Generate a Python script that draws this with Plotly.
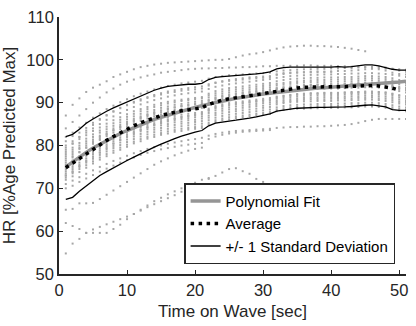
import plotly.graph_objects as go

x_full = list(range(1, 52))

avg = [74.8, 75.9, 77.0, 78.0, 79.1, 80.2, 81.2, 82.1, 83.0, 83.8, 84.6, 85.3, 85.9, 86.5, 87.0, 87.4, 87.8, 88.1, 88.3, 88.5,
       88.8, 89.6, 90.2, 90.6, 90.9, 91.1, 91.3, 91.5, 91.8, 92.1, 92.4, 92.7, 93.0, 93.2, 93.4, 93.6, 93.7, 93.7, 93.7, 93.7,
       93.6, 93.7, 93.8, 93.9, 94.0, 94.0, 93.9, 93.7, 93.4, 92.9, 92.5]
upper = [82.1, 82.6, 83.8, 85.2, 86.2, 87.2, 88.0, 88.8, 89.5, 90.2, 90.9, 91.6, 92.3, 92.9, 93.4, 93.8, 94.0, 94.2, 94.3, 94.3,
         94.5, 95.4, 95.9, 96.1, 96.2, 96.3, 96.4, 96.5, 96.7, 96.9, 97.2, 97.9, 98.2, 98.3, 98.3, 98.2, 98.3, 98.3, 98.2, 98.3,
         98.4, 98.3, 98.4, 98.6, 98.8, 98.8, 98.6, 98.2, 97.8, 97.6, 97.6]
lower = [67.4, 67.9, 69.3, 70.6, 71.8, 73.0, 73.9, 74.8, 75.7, 76.5, 77.3, 78.1, 78.9, 79.6, 80.3, 81.0, 81.6, 82.2, 82.7, 83.1,
         83.5, 84.6, 85.2, 85.5, 85.7, 85.9, 86.1, 86.4, 86.7, 87.0, 87.4, 88.0, 88.3, 88.5, 88.7, 88.8, 88.9, 88.9, 88.9, 88.9,
         88.9, 89.0, 89.1, 89.3, 89.4, 89.5, 89.3, 89.0, 88.4, 88.2, 88.2]
poly_fit = [75.0, 76.2, 77.3, 78.4, 79.4, 80.3, 81.2, 82.0, 82.8, 83.5, 84.2, 84.9, 85.5, 86.1, 86.6, 87.1, 87.6, 88.1, 88.5, 88.9,
            89.3, 89.7, 90.0, 90.4, 90.7, 91.0, 91.3, 91.5, 91.8, 92.0, 92.2, 92.4, 92.6, 92.8, 93.0, 93.1, 93.3, 93.4, 93.5, 93.7,
            93.8, 93.9, 94.0, 94.1, 94.2, 94.3, 94.4, 94.5, 94.7, 94.8, 95.0]

subjects = [
    [87.0, 89.5, 91.0, 92.5, 93.5, 94.2, 95.0, 96.0, 96.6, 97.2, 97.8, 98.3, 98.6, 98.9, 99.1, 99.3, 99.4, 99.5, 99.6, 99.7,
     99.8, 99.9, 100.0, 100.0, 100.2, 100.6, 101.0, 101.3, 101.5, 101.8, 102.2, 102.6, 102.9, 103.1, 103.2, 103.3, 103.3,
     103.2, 103.2, 103.1, 103.0, 102.8, 102.6, 102.3, 102.0],
    [84.0, 85.5, 87.0, 88.5, 90.0, 91.2, 92.4, 93.3, 94.2, 94.9, 95.4, 95.9, 96.3, 96.6, 97.0, 97.2, 97.4, 97.6, 97.8, 97.9,
     98.0, 98.0, 98.1, 98.1, 98.2, 98.2, 98.3, 98.3, 98.4, 98.5, 98.5, 98.6, 98.6, 98.6, 98.6, 98.7, 98.7, 98.6, 98.6, 98.6,
     98.5, 98.5, 98.4, 98.4, 98.3, 98.2, 98.1, 98.0, 97.9, 97.8, 97.7],
    [82.0, 83.0, 84.2, 85.3, 86.5, 87.5, 88.5, 89.3, 90.1, 90.8, 91.5, 92.1, 92.6, 93.1, 93.5, 93.9, 94.2, 94.5, 94.7, 94.9,
     95.1, 95.6, 96.0, 96.2, 96.4, 96.5, 96.6, 96.7, 96.8, 96.9, 97.0, 97.3, 97.5, 97.6, 97.7, 97.8, 97.8, 97.9, 97.9, 98.0,
     98.0, 98.1, 98.1, 98.2, 98.3, 98.4, 98.4, 98.2, 97.9, 97.5, 97.2],
    [80.0, 81.0, 82.0, 83.0, 84.0, 85.0, 86.0, 86.8, 87.6, 88.3, 89.0, 89.6, 90.1, 90.6, 91.0, 91.4, 91.7, 92.0, 92.2, 92.4,
     92.6, 93.2, 93.7, 94.0, 94.3, 94.5, 94.7, 94.9, 95.1, 95.3, 95.5, 95.8, 96.0, 96.2, 96.3, 96.4, 96.5, 96.5, 96.6, 96.6,
     96.7, 96.7, 96.8, 96.8, 96.9, 96.9, 96.8, 96.7, 96.5, 96.3, 96.0],
    [78.5, 79.5, 80.6, 81.6, 82.6, 83.5, 84.4, 85.2, 86.0, 86.7, 87.4, 88.0, 88.5, 89.0, 89.4, 89.8, 90.1, 90.4, 90.6, 90.8,
     91.0, 91.7, 92.2, 92.6, 92.9, 93.1, 93.3, 93.5, 93.7, 93.9, 94.1, 94.4, 94.6, 94.8, 95.0, 95.1, 95.2, 95.3, 95.3, 95.4,
     95.4, 95.5, 95.5, 95.6, 95.7, 95.7, 95.6, 95.5, 95.2, 94.8, 94.5],
    [77.5, 78.5, 79.5, 80.5, 81.4, 82.3, 83.2, 84.0, 84.8, 85.5, 86.2, 86.8, 87.3, 87.8, 88.2, 88.6, 88.9, 89.2, 89.4, 89.6,
     89.8, 90.6, 91.2, 91.6, 91.9, 92.1, 92.3, 92.5, 92.7, 92.9, 93.1, 93.4, 93.6, 93.8, 94.0, 94.1, 94.2, 94.2, 94.3, 94.3,
     94.3, 94.4, 94.5, 94.5, 94.6, 94.6, 94.5, 94.4, 94.1, 93.7, 93.4],
    [76.5, 77.5, 78.5, 79.5, 80.4, 81.3, 82.2, 83.0, 83.8, 84.5, 85.2, 85.8, 86.3, 86.8, 87.2, 87.6, 87.9, 88.2, 88.4, 88.6,
     88.8, 89.6, 90.2, 90.6, 90.9, 91.1, 91.3, 91.5, 91.7, 91.9, 92.1, 92.4, 92.6, 92.8, 93.0, 93.1, 93.2, 93.2, 93.3, 93.3,
     93.3, 93.4, 93.5, 93.5, 93.6, 93.6, 93.5, 93.4, 93.1, 92.7, 92.4],
    [75.5, 76.5, 77.5, 78.5, 79.4, 80.3, 81.2, 82.0, 82.8, 83.5, 84.2, 84.8, 85.3, 85.8, 86.2, 86.6, 86.9, 87.2, 87.4, 87.6,
     87.8, 88.6, 89.2, 89.6, 89.9, 90.1, 90.3, 90.5, 90.7, 90.9, 91.1, 91.4, 91.6, 91.8, 92.0, 92.1, 92.2, 92.2, 92.3, 92.3,
     92.3, 92.4, 92.5, 92.5, 92.6, 92.6, 92.5, 92.4, 92.1, 91.7, 91.4],
    [74.5, 75.5, 76.6, 77.6, 78.5, 79.4, 80.2, 81.0, 81.8, 82.5, 83.2, 83.8, 84.3, 84.8, 85.2, 85.6, 85.9, 86.2, 86.4, 86.6,
     86.8, 87.6, 88.2, 88.6, 88.9, 89.1, 89.3, 89.5, 89.7, 89.9, 90.1, 90.4, 90.6, 90.8, 91.0, 91.1, 91.2, 91.2, 91.3, 91.3,
     91.3, 91.4, 91.5, 91.5, 91.6, 91.6, 91.5, 91.4, 91.1, 90.7, 90.4],
    [73.5, 74.5, 75.5, 76.5, 77.4, 78.3, 79.1, 79.9, 80.7, 81.4, 82.1, 82.7, 83.2, 83.7, 84.1, 84.5, 84.8, 85.1, 85.3, 85.5,
     85.7, 86.5, 87.1, 87.5, 87.8, 88.0, 88.2, 88.4, 88.6, 88.8, 89.0, 89.6, 89.9, 90.1, 90.2, 90.3, 90.3, 90.4, 90.4, 90.4,
     90.5, 90.5, 90.6, 90.6, 90.7, 90.7, 90.6, 90.4, 90.1, 89.8, 89.6],
    [72.5, 73.5, 74.5, 75.4, 76.3, 77.2, 78.0, 78.8, 79.5, 80.2, 80.9, 81.5, 82.0, 82.5, 82.9, 83.3, 83.6, 83.9, 84.1, 84.3,
     84.5, 85.3, 85.9, 86.3, 86.6, 86.8, 87.0, 87.2, 87.4, 87.6, 87.8, 88.4, 88.7, 88.9, 89.0, 89.1, 89.1, 89.2, 89.2, 89.2,
     89.3, 89.3, 89.4, 89.4, 89.5, 89.5, 89.4, 89.2, 88.9, 88.6, 88.4],
    [71.0, 71.8, 72.6, 73.4, 74.2, 75.0, 75.7, 76.4, 77.0, 77.6, 78.2, 78.7, 79.2, 79.6, 80.0, 80.4, 80.7, 81.0, 81.3, 81.5,
     81.8, 82.3, 82.7, 83.0, 83.2, 83.4, 83.5, 83.6, 83.7, 83.8, 83.9, 84.1, 84.2, 84.3, 84.3, 84.4, 84.4, 84.5, 84.5, 84.6,
     84.7, 84.8, 85.0, 85.3, 85.7, 86.0, 86.2, 86.2, 86.2, 86.2, 86.2],
    [70.0, 70.6, 71.5, 72.3, 73.1, 73.9, 74.6, 75.3, 76.0, 76.6, 77.2, 77.8, 78.3, 78.7, 79.1, 79.4, 79.7, 80.0, 80.2, 80.4,
     80.6, 81.5, 82.1, 82.5, 82.8, 83.0, 83.2, 83.3, 83.4, 83.5, 83.6],
    [65.0, 65.2, 66.5, 66.5, 66.6, 67.5, 68.5, 69.5, 70.5, 71.5, 72.5, 73.5, 74.5, 75.5, 76.3, 77.0, 77.7, 78.3, 78.8, 79.2,
     79.5],
    [61.9, 61.2, 60.5, 59.6, 59.6, 59.6, 59.6, 60.5, 61.5, 62.8, 64.0, 65.0, 66.0, 67.0, 67.8, 68.6, 69.3, 70.0, 70.8, 71.3,
     72.0, 72.4, 72.9, 73.7, 74.5, 74.7, 74.0, 73.4, 72.2, 71.5, 70.4],
    [54.8, 57.1, 58.2, 59.6, 60.4, 61.0, 61.6, 62.2, 62.8, 63.4, 64.0, 64.8, 65.6, 66.3, 67.0, 67.7, 68.4, 69.2, 70.0, 70.6,
     71.0, 72.2],
    [79.0, 80.5, 82.0, 83.5, 84.8, 86.0, 87.0, 88.0, 88.8, 89.5, 90.2, 90.8, 91.3, 91.8, 92.2, 92.6, 92.9, 93.2, 93.4, 93.6,
     93.8, 94.3, 94.7, 95.0, 95.3, 95.5, 95.7, 95.9, 96.0, 96.1, 96.2, 96.5, 96.7, 96.9, 97.0, 97.1, 97.1, 97.1, 97.2, 97.2],
    [76.0, 77.2, 78.4, 79.5, 80.6, 81.6, 82.6, 83.5, 84.3, 85.1, 85.8, 86.5, 87.1, 87.6, 88.1, 88.5, 88.9, 89.2, 89.5, 89.7,
     89.9, 90.5, 91.0, 91.4, 91.7, 92.0, 92.2, 92.4, 92.6, 92.8, 93.0, 93.3, 93.5, 93.7, 93.9, 94.0, 94.1, 94.2, 94.2, 94.3,
     94.3, 94.4, 94.4, 94.5, 94.5, 94.6, 94.4, 94.2, 93.8, 93.4, 93.0],
    [73.0, 74.0, 75.2, 76.3, 77.4, 78.4, 79.4, 80.4, 81.3, 82.1, 82.9, 83.6, 84.2, 84.8, 85.3, 85.8, 86.2, 86.6, 86.9, 87.2,
     87.5, 88.3, 88.9, 89.3, 89.6, 89.8, 90.0, 90.2, 90.4, 90.6, 90.8, 91.2, 91.5, 91.7, 91.9, 92.0, 92.1, 92.1, 92.2, 92.2,
     92.2, 92.3, 92.3, 92.4, 92.4, 92.5, 92.4, 92.3, 92.0, 91.7, 91.5],
    [81.0, 82.2, 83.0, 84.1, 85.3, 86.2, 87.1, 87.9, 88.7, 89.4, 90.0, 90.5, 91.1, 91.5, 91.9, 92.3, 92.5, 92.8, 93.0, 93.1,
     93.3, 94.0, 94.6, 94.9, 95.1, 95.2, 95.4, 95.6, 95.7, 95.8, 96.0, 96.6, 96.9, 97.0, 97.1, 97.1, 97.2, 97.3, 97.2, 97.3,
     97.4, 97.4, 97.5, 97.6, 97.8, 97.9, 97.8, 97.5, 97.0, 96.7, 96.6],
    [77.0, 78.0, 79.2, 80.0, 81.0, 82.0, 82.7, 83.6, 84.3, 85.0, 85.7, 86.3, 86.8, 87.3, 87.7, 88.0, 88.3, 88.6, 88.9, 89.0,
     89.3, 90.1, 90.7, 91.0, 91.4, 91.6, 91.8, 92.0, 92.2, 92.4, 92.6, 93.0, 93.1, 93.3, 93.5, 93.6, 93.7, 93.7, 93.8, 93.8,
     93.8, 93.9, 94.0, 94.1, 94.2, 94.1, 94.0, 93.9, 93.6, 93.2, 92.9],
    [74.0, 75.0, 76.0, 77.0, 78.0, 78.9, 79.8, 80.5, 81.3, 82.0, 82.6, 83.3, 83.8, 84.2, 84.7, 85.0, 85.4, 85.6, 85.9, 86.0,
     86.3, 87.0, 87.6, 88.1, 88.4, 88.5, 88.8, 89.0, 89.2, 89.3, 89.6, 90.0, 90.2, 90.4, 90.6, 90.7, 90.8, 90.8, 90.8, 90.9,
     90.9, 91.0, 91.0, 91.1, 91.1, 91.2, 91.0, 90.9, 90.6, 90.2, 90.0],
    [72.0, 72.8, 73.8, 74.8, 75.8, 76.7, 77.5, 78.3, 79.0, 79.7, 80.5, 81.0, 81.6, 82.0, 82.5, 82.8, 83.2, 83.4, 83.7, 83.9,
     84.1, 84.9, 85.5, 85.9, 86.1, 86.4, 86.6, 86.8, 87.0, 87.2, 87.4, 88.0, 88.3, 88.5, 88.6, 88.6, 88.7, 88.7, 88.8, 88.8,
     88.8, 88.9, 88.9, 89.0, 89.1, 89.1, 89.0, 88.8, 88.5, 88.2, 88.0],
    [79.5, 80.4, 81.5, 82.4, 83.4, 84.2, 85.1, 85.9, 86.6, 87.3, 88.0, 88.5, 89.0, 89.5, 89.9, 90.2, 90.5, 90.7, 90.9, 91.1,
     91.3, 92.1, 92.7, 93.1, 93.4, 93.6, 93.8, 94.0, 94.2, 94.4, 94.6, 95.0, 95.3, 95.5, 95.6, 95.7, 95.8, 95.8, 95.9, 95.9,
     95.9, 96.0, 96.0, 96.1, 96.2, 96.2, 96.1, 96.0, 95.7, 95.3, 95.0],
    [75.0, 76.2, 77.0, 78.0, 79.0, 79.8, 80.7, 81.5, 82.3, 83.0, 83.7, 84.3, 84.8, 85.2, 85.7, 86.1, 86.4, 86.7, 86.9, 87.1,
     87.3, 88.1, 88.7, 89.1, 89.4, 89.6, 89.8, 90.0, 90.2, 90.4, 90.6, 90.9, 91.1, 91.3, 91.5, 91.6, 91.7, 91.7, 91.8, 91.8,
     91.8, 91.9, 92.0, 92.0, 92.1, 92.1, 92.0, 91.9, 91.6, 91.2, 90.9],
    [78.0, 79.0, 80.0, 81.0, 82.0, 83.0, 83.8, 84.6, 85.4, 86.1, 86.8, 87.4, 87.9, 88.3, 88.8, 89.1, 89.5, 89.7, 90.0, 90.2,
     90.4, 91.2, 91.7, 92.1, 92.4, 92.6, 92.8, 93.0, 93.2, 93.4, 93.6, 94.0, 94.2, 94.4, 94.6, 94.7, 94.8, 94.8, 94.8, 94.9,
     94.9, 95.0, 95.0, 95.1, 95.2, 95.2, 95.1, 95.0, 94.7, 94.3, 94.0],
    [73.0, 73.8, 75.0, 76.0, 76.9, 77.8, 78.6, 79.4, 80.1, 80.8, 81.5, 82.1, 82.6, 83.1, 83.5, 83.9, 84.2, 84.5, 84.7, 84.9,
     85.1, 85.9, 86.5, 86.9, 87.2, 87.4, 87.6, 87.8, 88.0, 88.2, 88.4, 88.9, 89.2, 89.4, 89.5, 89.6, 89.6, 89.7, 89.7, 89.7,
     89.8, 89.8, 89.9, 89.9, 90.0, 90.0, 89.9, 89.7, 89.4, 89.1, 88.9],
]

x_ticks = [0, 10, 20, 30, 40, 50]
y_ticks = [50, 60, 70, 80, 90, 100, 110]

FONT = "Liberation Sans, Arial, Helvetica, sans-serif"
TXT = "#262626"

fig = go.Figure()

for s in subjects:
    fig.add_trace(go.Scatter(
        x=x_full[:len(s)], y=s, mode="markers",
        marker=dict(color="#a6a6a6", size=2, symbol="square", line=dict(width=0)),
        showlegend=False, hoverinfo="skip"))

fig.add_trace(go.Scatter(x=x_full, y=poly_fit, mode="lines", name="Polynomial Fit",
                         line=dict(color="#959595", width=3.5)))
fig.add_trace(go.Scatter(x=x_full[:50], y=avg[:50], mode="lines", name="Average",
                         line=dict(color="black", width=3.5, dash="3.5px,4.5px")))
fig.add_trace(go.Scatter(x=x_full, y=upper, mode="lines", name="+/- 1 Standard Deviation",
                         legendgroup="sd", line=dict(color="black", width=1.3)))
fig.add_trace(go.Scatter(x=x_full, y=lower, mode="lines", name="+/- 1 Standard Deviation",
                         legendgroup="sd", showlegend=False, line=dict(color="black", width=1.3)))

axis_common = dict(showline=True, linecolor=TXT, linewidth=1.6, ticks="inside", ticklen=4,
                   tickwidth=1.4, tickcolor=TXT, showgrid=False, zeroline=False,
                   tickfont=dict(family=FONT, size=16.5, color=TXT))

fig.update_xaxes(range=[0, 51], tickvals=x_ticks, **axis_common,
                 title=dict(text="Time on Wave [sec]", font=dict(family=FONT, size=17, color=TXT), standoff=8))
fig.update_yaxes(range=[50, 110], tickvals=y_ticks, **axis_common,
                 title=dict(text="HR [%Age Predicted Max]", font=dict(family=FONT, size=17, color=TXT), standoff=6))

fig.update_layout(
    width=416, height=326,
    margin=dict(l=58, r=8, t=12, b=52),
    plot_bgcolor="white", paper_bgcolor="white",
    legend=dict(x=0.9686, y=0.038, xanchor="right", yanchor="bottom",
                bgcolor="white", bordercolor=TXT, borderwidth=1.5,
                font=dict(family=FONT, size=15, color="black"),
                tracegroupgap=0, itemwidth=30),
)

fig.write_html("out.html")
